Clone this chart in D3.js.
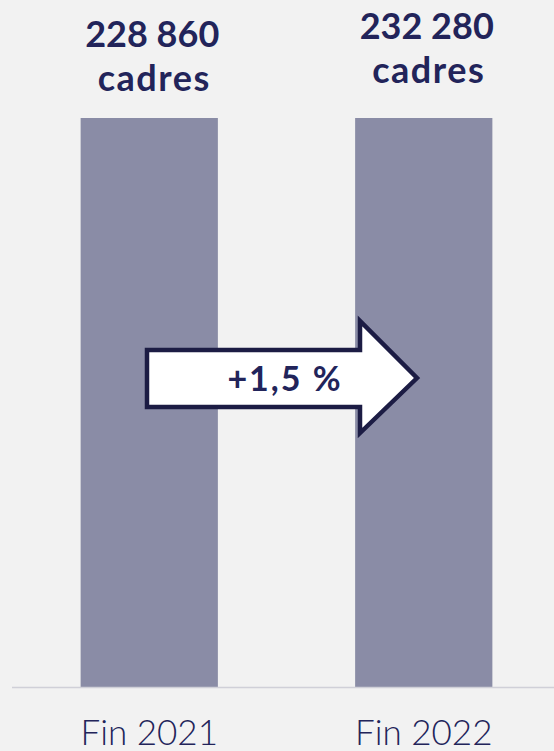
<!DOCTYPE html>
<html>
<head>
<meta charset="utf-8">
<script src="https://cdn.jsdelivr.net/npm/d3@7"></script>
<style>
  html, body { margin: 0; padding: 0; background: #f2f2f2; }
  svg { display: block; }
</style>
</head>
<body>
<div id="chart"></div>
<script>
// data
var periods = ["Fin 2021", "Fin 2022"];
var cadres = [228860, 232280];
var evolutionLabel = "+1,5 %";

var width = 554, height = 751;
var baseY = 687, plotTop = 118;
var navy = "#22245a";

var svg = d3.select("#chart").append("svg")
    .attr("width", width)
    .attr("height", height);

var x = d3.scaleBand()
    .domain(periods)
    .range([12, 561])
    .paddingInner(0.5)
    .paddingOuter(0.25);

// axis max set below the values: bars get cut at the plot top
var yBar = d3.scaleLinear()
    .domain([0, 225000])
    .range([baseY, plotTop])
    .clamp(true);

// unclipped scale used to place the value labels
var y = d3.scaleLinear()
    .domain([0, 243000])
    .range([baseY, plotTop]);

var fmt = function (v) {
    return d3.format(",")(v).replace(/,/g, " ");
};

svg.selectAll(".bar")
    .data(cadres)
    .enter().append("rect")
    .attr("class", "bar")
    .attr("x", function (d, i) { return x(periods[i]); })
    .attr("width", x.bandwidth())
    .attr("y", function (d) { return yBar(d); })
    .attr("height", function (d) { return baseY - yBar(d); })
    .attr("fill", "#8a8ca6");

// baseline
svg.append("line")
    .attr("x1", 12).attr("x2", width)
    .attr("y1", baseY + 0.5).attr("y2", baseY + 0.5)
    .attr("stroke", "#d0d0d8")
    .attr("stroke-width", 1.5);

// category labels
svg.selectAll(".cat")
    .data(periods)
    .enter().append("text")
    .attr("class", "cat")
    .attr("x", function (d) { return x(d) + x.bandwidth() / 2; })
    .attr("y", 745)
    .attr("text-anchor", "middle")
    .style("font-family", "Lato, sans-serif")
    .style("font-weight", 300)
    .style("font-size", "35px")
    .attr("fill", navy)
    .text(function (d) { return d; });

// value labels
var lbl = svg.selectAll(".val")
    .data(cadres)
    .enter().append("text")
    .attr("class", "val")
    .attr("text-anchor", "middle")
    .style("font-family", "Lato, sans-serif")
    .style("font-weight", 700)
    .style("font-size", "36px")
    .attr("fill", navy);

lbl.append("tspan")
    .attr("x", function (d, i) { return x(periods[i]) + x.bandwidth() / 2 + 3; })
    .attr("y", function (d) { return y(d) - 104; })
    .text(function (d) { return fmt(d); });

lbl.append("tspan")
    .attr("x", function (d, i) { return x(periods[i]) + x.bandwidth() / 2 + 5; })
    .attr("y", function (d) { return y(d) - 60; })
    .style("letter-spacing", "1.5px")
    .text("cadres");

// evolution arrow
var ax0 = 147, ax1 = 417, ay = 378;
var arrow = d3.path();
arrow.moveTo(ax0, ay - 28);
arrow.lineTo(360, ay - 28);
arrow.lineTo(360, ay - 57);
arrow.lineTo(ax1, ay);
arrow.lineTo(360, ay + 55);
arrow.lineTo(360, ay + 29);
arrow.lineTo(ax0, ay + 29);
arrow.closePath();

svg.append("path")
    .attr("d", arrow.toString())
    .attr("fill", "#ffffff")
    .attr("stroke", "#1c1c44")
    .attr("stroke-width", 4.5)
    .attr("stroke-linejoin", "miter");

svg.append("text")
    .attr("x", 285)
    .attr("y", 391)
    .attr("text-anchor", "middle")
    .style("font-family", "Lato, sans-serif")
    .style("font-weight", 700)
    .style("font-size", "34px")
    .style("letter-spacing", "2px")
    .attr("fill", navy)
    .text(evolutionLabel);
</script>
</body>
</html>
